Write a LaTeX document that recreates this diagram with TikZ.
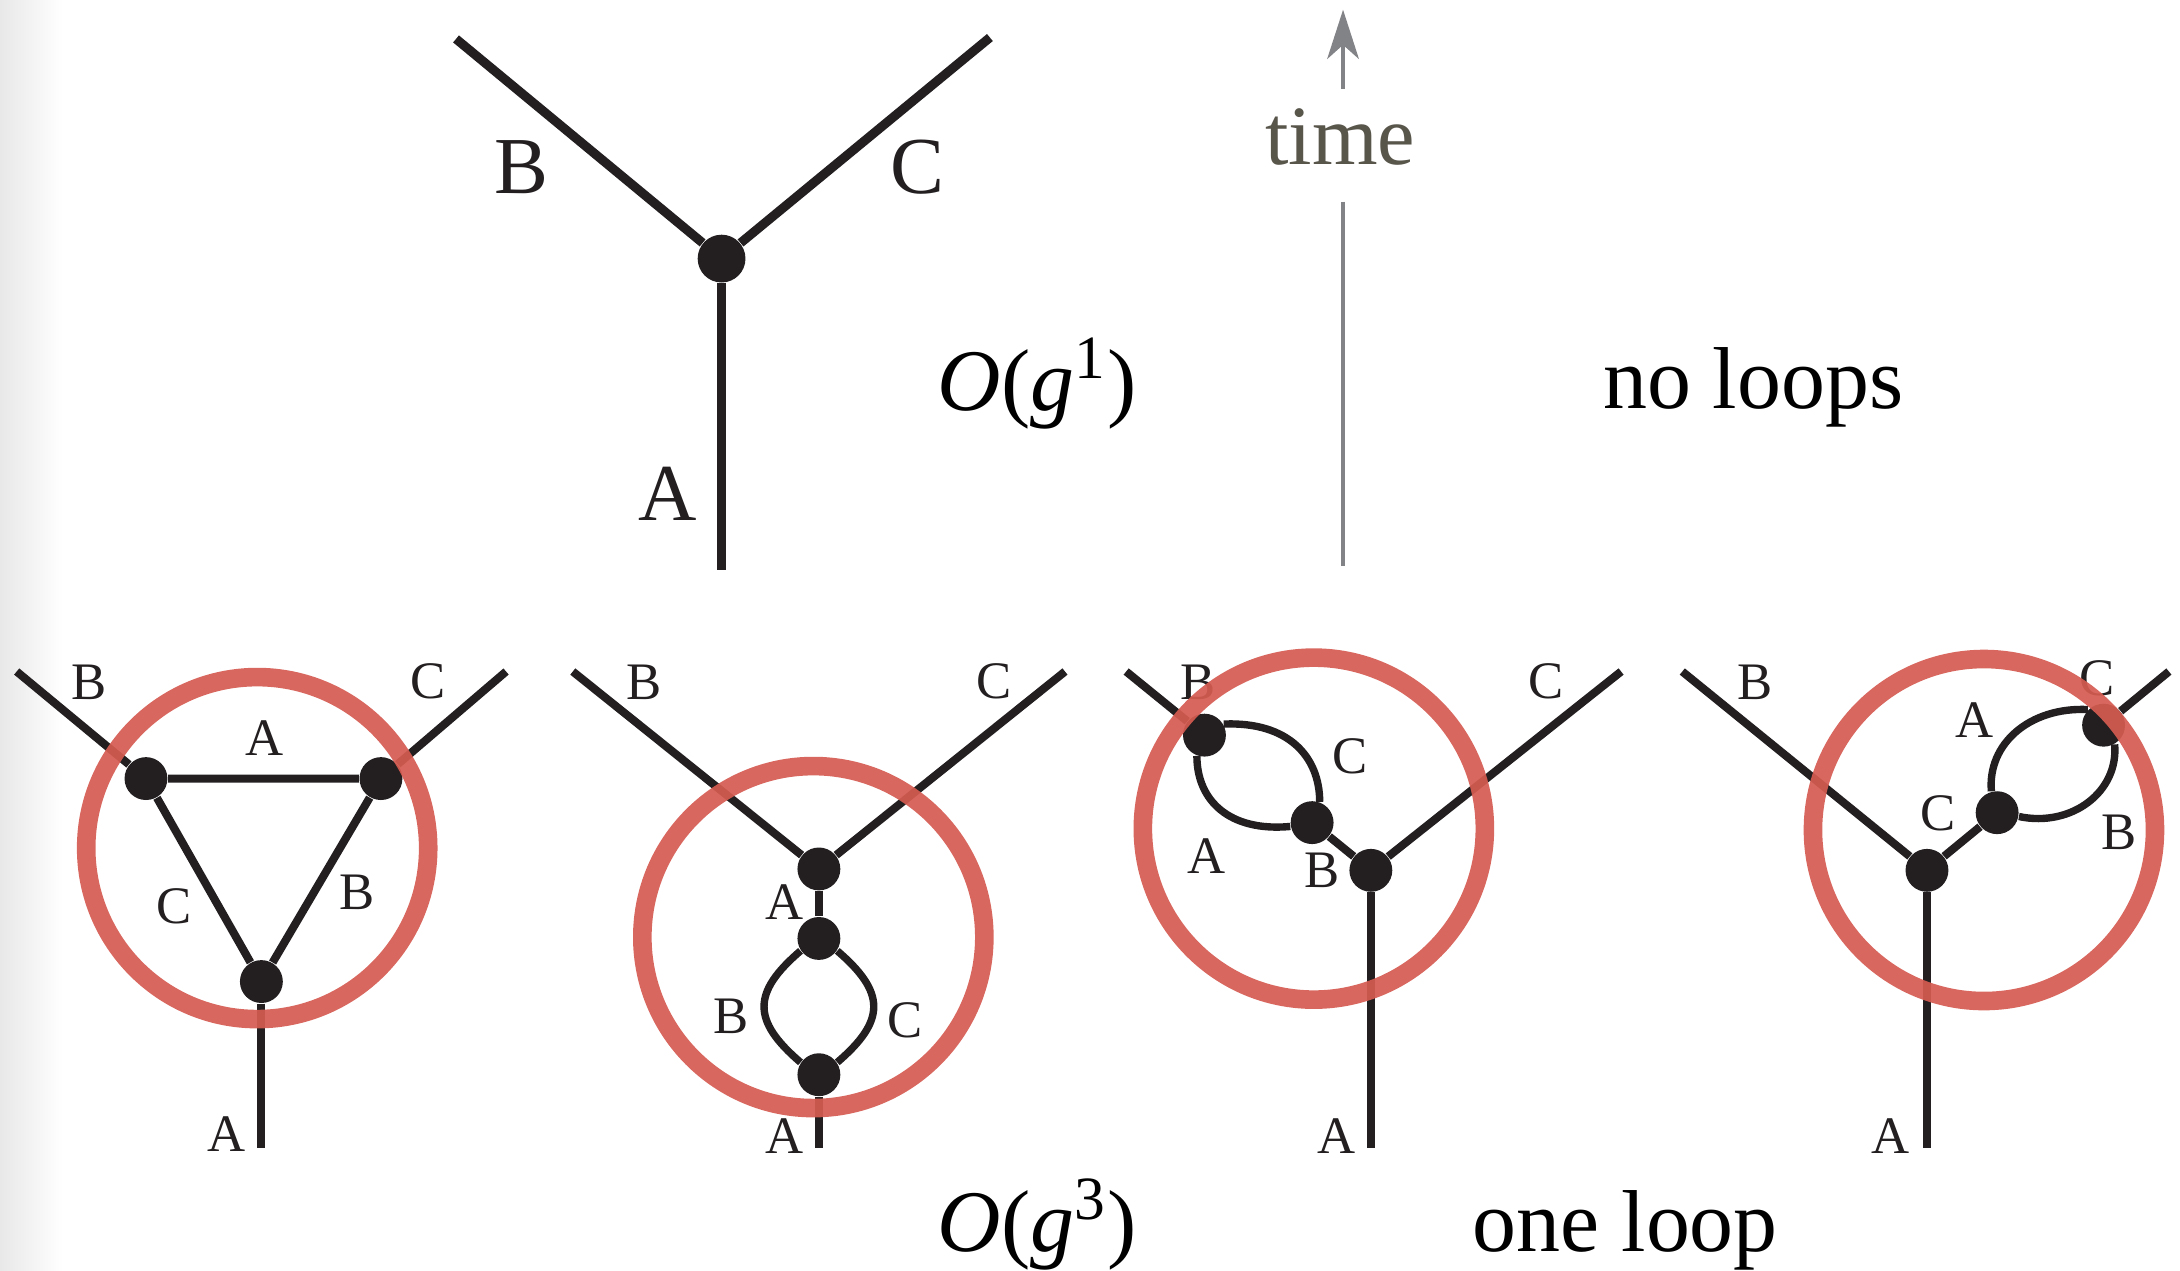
\documentclass[tikz,border=0pt]{standalone}
\usepackage{fontspec}
\setmainfont{Liberation Serif}
\usetikzlibrary{arrows.meta,calc}
\definecolor{ink}{RGB}{35,31,32}
\definecolor{chalk}{RGB}{213,91,81}
\definecolor{axisgray}{RGB}{130,131,135}
\definecolor{timetxt}{RGB}{88,85,75}

\begin{document}
\begin{tikzpicture}[x=0.13903mm,y=0.13903mm,>=Stealth,
    leg/.style={ink,line width=2.3pt},
    bigleg/.style={ink,line width=2.6pt},
    loopline/.style={ink,line width=2.1pt},
    vtx/.style={circle,fill=ink,inner sep=0pt,minimum size=12.2pt},
    bigvtx/.style={circle,fill=ink,inner sep=0pt,minimum size=13.6pt},
    lab/.style={ink,inner sep=0pt,font=\fontsize{15}{15}\selectfont},
    biglab/.style={ink,inner sep=0pt,font=\fontsize{23}{23}\selectfont},
    caption/.style={black,inner sep=0pt,anchor=base,font=\fontsize{25}{25}\selectfont},
    ring/.style={chalk,line width=5.3pt,opacity=0.92}]
  \useasboundingbox (0,0) rectangle (1568,914);
  \shade[left color=black!9,right color=white] (0,0) rectangle (45,914);

  % tree level vertex
  \coordinate (tBend) at (328,886);
  \coordinate (tCend) at (712,887);
  \coordinate (tAend) at (519,504);
  \node[bigvtx] (tV) at (519,728) {};
  \draw[bigleg] (tBend) -- (tV) -- (tCend);
  \draw[bigleg] (tV) -- (tAend);
  \node[biglab] (tB) at (375,794) {B};
  \node[biglab] (tC) at (660,794) {C};
  \node[biglab] (tA) at (480,559) {A};

  % time axis
  \node[timetxt,inner sep=0pt,anchor=base,font=\fontsize{24}{24}\selectfont]
      (time) at (964,796) {time};
  \coordinate (tshaft) at (966,850);
  \coordinate (ttip)   at (966,907);
  \coordinate (taxtop) at (966,769);
  \coordinate (taxbot) at (966,507);
  \draw[axisgray,line width=1.1pt,-{Stealth[length=14pt,width=9pt,inset=4pt]}]
      (tshaft) -- (ttip);
  \draw[axisgray,line width=1.1pt] (taxtop) -- (taxbot);

  \node[caption] (og1)    at (746,619)  {\textit{O}(\textit{g}\textsuperscript{1})};
  \node[caption] (noloop) at (1261,620) {no loops};
  \node[caption] (og3)    at (746,14)   {\textit{O}(\textit{g}\textsuperscript{3})};
  \node[caption] (oneloop) at (1169,14) {one loop};

  % --- triangle
  \node[lab] at (64,423)  {B};
  \node[lab] at (308,424) {C};
  \node[lab] at (190,383) {A};
  \node[lab] at (125,262) {C};
  \node[lab] at (257,272) {B};
  \node[lab] at (163,98)  {A};
  \coordinate (d1Bend) at (12,431);
  \coordinate (d1Cend) at (364,431);
  \coordinate (d1Aend) at (188,88);
  \node[vtx] (d1l) at (105,354) {};
  \node[vtx] (d1r) at (274,354) {};
  \node[vtx] (d1b) at (188,208) {};
  \draw[leg] (d1Bend) -- (d1l) -- (d1r) -- (d1Cend);
  \draw[leg] (d1l) -- (d1b) -- (d1r);
  \draw[leg] (d1b) -- (d1Aend);

  % --- bubble on A
  \node[lab] at (463,423) {B};
  \node[lab] at (715,424) {C};
  \node[lab] at (564,265) {A};
  \node[lab] at (526,183) {B};
  \node[lab] at (651,180) {C};
  \node[lab] at (564,97)  {A};
  \coordinate (d2Bend) at (412,431);
  \coordinate (d2Cend) at (766,431);
  \coordinate (d2Aend) at (589,88);
  \node[vtx] (d2V) at (589,289) {};
  \node[vtx] (d2u) at (589,239) {};
  \node[vtx] (d2d) at (589,141) {};
  \draw[leg] (d2Bend) -- (d2V) -- (d2Cend);
  \draw[leg] (d2V) -- (d2u);
  \draw[loopline] (d2u.214) .. controls +(-35,-30) and +(-35,30) .. (d2d.146);
  \draw[loopline] (d2u.-34) .. controls +(35,-30) and +(35,30) .. (d2d.34);
  \draw[leg] (d2d) -- (d2Aend);

  % --- bubble on B
  \node[lab] at (862,423)  {B};
  \node[lab] at (1112,424) {C};
  \node[lab] at (971,370)  {C};
  \node[lab] at (868,298)  {A};
  \node[lab] at (951,288)  {B};
  \node[lab] at (961,97)   {A};
  \coordinate (d3Bend) at (810,431);
  \coordinate (d3Cend) at (1166,431);
  \coordinate (d3Aend) at (986,88);
  \node[vtx] (d3V) at (986,288) {};
  \node[vtx] (d3a) at ($(d3V)!0.68!(d3Bend)$) {};
  \node[vtx] (d3b) at ($(d3V)!0.24!(d3Bend)$) {};
  \draw[leg] (d3Bend) -- (d3a);
  \draw[leg] (d3b) -- (d3V) -- (d3Cend);
  \draw[leg] (d3V) -- (d3Aend);
  \draw[loopline] (d3a.30) .. controls +(47,2) and +(0,32) .. (d3b.70);
  \draw[loopline] (d3a.250) .. controls +(0,-32) and +(-44,-4) .. (d3b.190);

  % --- bubble on C
  \node[lab] at (1262,423) {B};
  \node[lab] at (1508,426) {C};
  \node[lab] at (1420,396) {A};
  \node[lab] at (1394,329) {C};
  \node[lab] at (1524,315) {B};
  \node[lab] at (1360,97)  {A};
  \coordinate (d4Bend) at (1210,431);
  \coordinate (d4Cend) at (1560,431);
  \coordinate (d4Aend) at (1386,88);
  \node[vtx] (d4V) at (1386,288) {};
  \node[vtx] (d4a) at ($(d4V)!0.29!(d4Cend)$) {};
  \node[vtx] (d4b) at ($(d4V)!0.73!(d4Cend)$) {};
  \draw[leg] (d4Bend) -- (d4V) -- (d4a);
  \draw[leg] (d4b) -- (d4Cend);
  \draw[leg] (d4V) -- (d4Aend);
  \draw[loopline] (d4a.105) .. controls +(-3,34) and +(-42,2) .. (d4b.135);
  \draw[loopline] (d4a.-10) .. controls +(38,-8) and +(3,-34) .. (d4b.-60);

  % chalk rings round the loop parts
  \draw[ring] (185,304)  circle[radius=123];
  \draw[ring] (585,240)  circle[radius=123];
  \draw[ring] (945,318)  circle[radius=123];
  \draw[ring] (1427,317) circle[radius=123];
\end{tikzpicture}
\end{document}
